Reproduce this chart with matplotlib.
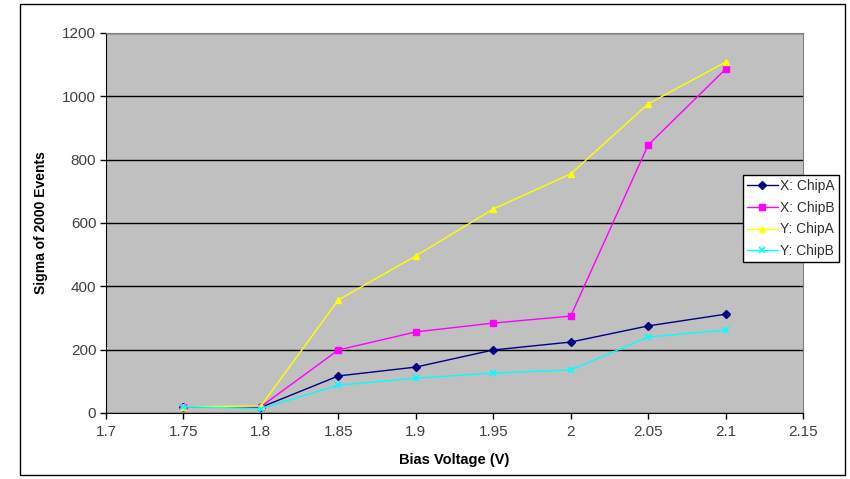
import matplotlib
matplotlib.use("Agg")
import matplotlib.pyplot as plt
from matplotlib.patches import Rectangle

# Bias voltage sweep and measured sigma per chip/axis
voltage = [1.75, 1.80, 1.85, 1.90, 1.95, 2.00, 2.05, 2.10]
x_chip_a = [20, 18, 117, 145, 199, 224, 275, 312]
x_chip_b = [20, 20, 199, 256, 284, 306, 846, 1086]
y_chip_a = [20, 22, 357, 496, 644, 755, 976, 1108]
y_chip_b = [20, 14, 88, 110, 126, 136, 240, 262]

series_labels = ["X: ChipA", "X: ChipB", "Y: ChipA", "Y: ChipB"]
x_ticks = [1.7, 1.75, 1.8, 1.85, 1.9, 1.95, 2.0, 2.05, 2.1, 2.15]
x_tick_labels = ["1.7", "1.75", "1.8", "1.85", "1.9", "1.95", "2", "2.05", "2.1", "2.15"]
y_ticks = [0, 200, 400, 600, 800, 1000, 1200]

plt.rcParams["font.family"] = ["Liberation Sans", "DejaVu Sans"]

fig = plt.figure(figsize=(8.5, 4.79), dpi=100)
fig.patch.set_facecolor("white")
# Outer chart frame
fig.patches.append(Rectangle((20 / 850, 4 / 479), 825 / 850, 471 / 479,
                             transform=fig.transFigure, fill=False,
                             edgecolor="#000000", linewidth=1.0))

ax = fig.add_axes([106 / 850, 1 - 413 / 479, 697 / 850, 380 / 479])
ax.set_facecolor("#c0c0c0")

styles = [
    dict(color="#000080", marker="D", markersize=4),
    dict(color="#ff00ff", marker="s", markersize=5),
    dict(color="#ffff00", marker="^", markersize=5),
    dict(color="#00ffff", marker="x", markersize=4, markeredgewidth=1.2),
]
for vals, lab, st in zip([x_chip_a, x_chip_b, y_chip_a, y_chip_b], series_labels, styles):
    ax.plot(voltage, vals, linewidth=1.0, label=lab, zorder=3, **st)

ax.set_xlim(1.7, 2.15)
ax.set_ylim(0, 1200)
ax.set_xticks(x_ticks)
ax.set_xticklabels(x_tick_labels)
ax.set_yticks(y_ticks)
ax.yaxis.grid(True, color="black", linewidth=1.0)
ax.set_axisbelow(True)

for side in ["top", "right"]:
    ax.spines[side].set_color("#808080")
for side in ["left", "bottom"]:
    ax.spines[side].set_color("black")
ax.tick_params(axis="both", direction="out", length=4, width=1, labelsize=11,
               colors="black", labelcolor="#404040", pad=3)
ax.tick_params(axis="x", pad=5)

ax.set_xlabel("Bias Voltage (V)", fontsize=10.5, fontweight="bold", labelpad=10)
ax.set_ylabel("Sigma of 2000 Events", fontsize=10, fontweight="bold", labelpad=10)

leg = ax.legend(loc="upper left", bbox_to_anchor=(743 / 850, 1 - 175 / 479),
                bbox_transform=fig.transFigure, fontsize=10, frameon=True,
                fancybox=False, edgecolor="black", framealpha=1.0,
                borderpad=0.3, labelspacing=0.55, handlelength=2.2,
                handletextpad=0.2, borderaxespad=0)
leg.get_frame().set_linewidth(1.0)
for t in leg.get_texts():
    t.set_color("#303030")

fig.savefig("out.png", dpi=100, facecolor=fig.get_facecolor())
